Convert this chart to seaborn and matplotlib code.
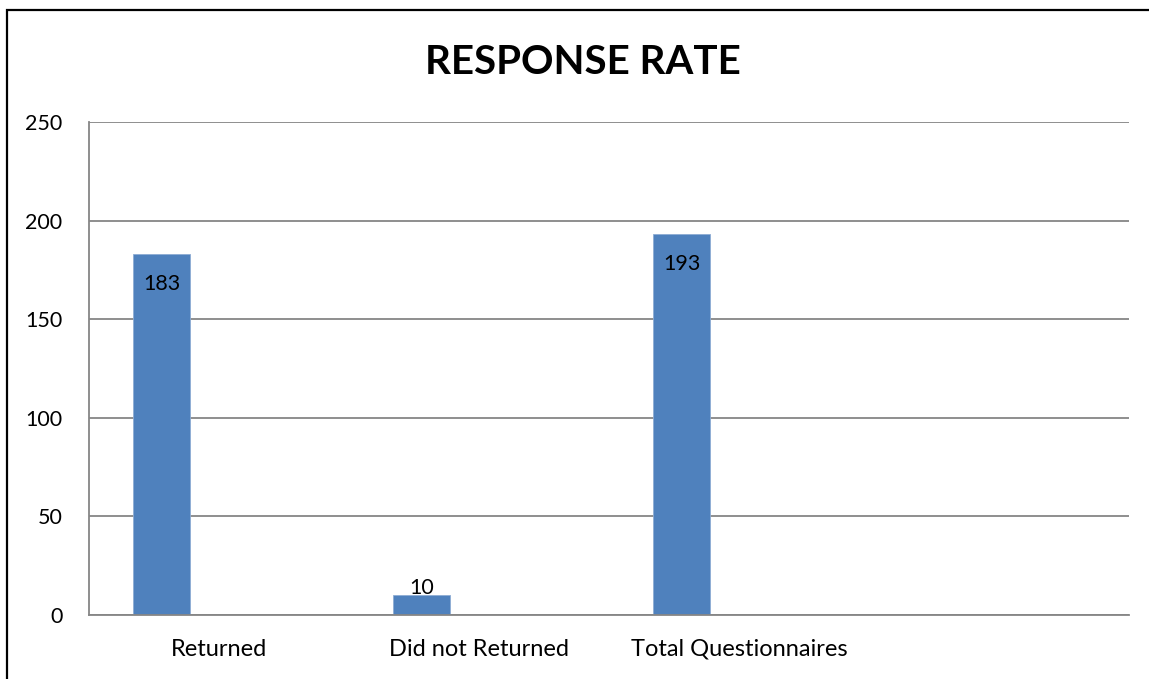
import matplotlib
matplotlib.use("Agg")
import matplotlib.pyplot as plt
import matplotlib.patches as mpatches
import seaborn as sns
import pandas as pd

# Questionnaire counts
categories = ["Returned", "Did not Returned", "Total Questionnaires"]
counts = [183, 10, 193]
series_names = ["Series1", "Series2", "Series3"]
y_ticks = [0, 50, 100, 150, 200, 250]

df = pd.DataFrame({"category": categories, "count": counts, "series": series_names[0]})

sns.set_theme(style="white")
plt.rcParams["font.family"] = ["Lato", "DejaVu Sans"]

W, H = 1149, 679
fig = plt.figure(figsize=(W / 100, H / 100), dpi=100)
ax = fig.add_axes([89 / W, 1 - 615 / H, (1129 - 89) / W, (615 - 122) / H])

sns.barplot(
    data=df, x="category", y="count", hue="series",
    order=categories + [""], hue_order=series_names, dodge=True,
    palette=["#4F81BD", "#C0504D", "#9BBB59"], width=0.66,
    saturation=1, legend=False, ax=ax, edgecolor="#8EACD4", linewidth=0.6,
)

ax.set_ylim(0, 250)
ax.set_xlim(-0.5, 3.5)
ax.set_yticks(y_ticks)
ax.set_xlabel("")
ax.set_ylabel("")
ax.yaxis.grid(True, color="#868686", linewidth=1.3)
ax.set_axisbelow(True)
for side in ["top", "right"]:
    ax.spines[side].set_visible(False)
for side in ["left", "bottom"]:
    ax.spines[side].set_color("#868686")
    ax.spines[side].set_linewidth(1.3)
ax.tick_params(axis="y", length=0, pad=19, labelsize=15.5, labelcolor="black")
ax.tick_params(axis="x", length=0, pad=17, labelsize=17, labelcolor="black")

# value labels: inside the top of tall bars, above short ones
for bar in ax.patches:
    h = bar.get_height()
    if h != h or h == 0:
        continue
    cx = bar.get_x() + bar.get_width() / 2
    if h > 30:
        ax.annotate(f"{int(h)}", (cx, h), xytext=(0, -21.5), textcoords="offset points",
                    ha="center", va="center", fontsize=15.5, color="black")
    else:
        ax.annotate(f"{int(h)}", (cx, h), xytext=(0, 5), textcoords="offset points",
                    ha="center", va="center", fontsize=15.5, color="black")

fig.text(583 / W, 1 - 62 / H, "RESPONSE RATE", ha="center", va="center",
         fontsize=29, fontweight="bold", color="black")

# chart frame
frame = mpatches.Rectangle((6.5 / W, -0.1), 1.2, (H - 10.5) / H + 0.1,
                           transform=fig.transFigure, fill=False,
                           edgecolor="black", linewidth=1.6, clip_on=False)
fig.patches.append(frame)

fig.savefig("out.png", dpi=100)
